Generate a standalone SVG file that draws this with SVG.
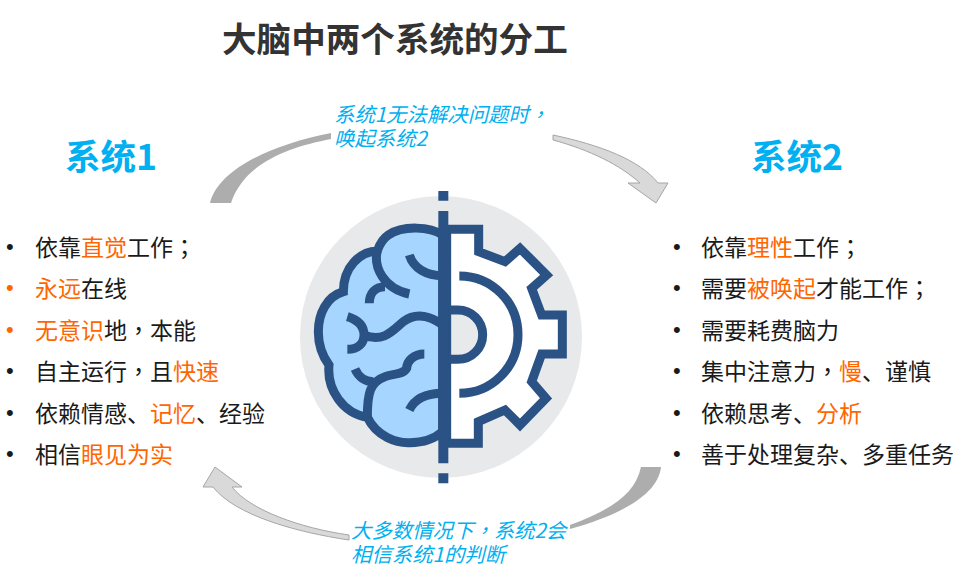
<svg xmlns="http://www.w3.org/2000/svg" width="968" height="575" viewBox="0 0 968 575">
<style>
text{font-family:"Noto Sans CJK SC","Noto Sans",sans-serif}
.li{font-size:23px;fill:#1a1a1a}
.o{fill:#ff6600}
.p{font-family:"Noto Sans CJK TC","Noto Sans CJK SC",sans-serif}
.b{font-size:22px;fill:#1a1a1a;font-family:"Liberation Sans",sans-serif}
.h{font-size:35.5px;font-weight:700;fill:#00b0f0}
.n{font-size:20.4px;font-style:italic;fill:#00b0f0}
.dark{fill:#adadad}
.light{fill:#d9d9d9;stroke:#a6a6a6;stroke-width:1}
.ic{fill:none;stroke:#2a5284;stroke-width:27;stroke-linejoin:miter}
</style>
<rect width="968" height="575" fill="#fff"/>
<g id="title"><text x="222" y="52" font-size="34.6" font-weight="700" fill="#333">大脑中两个系统的分工</text></g>
<g id="connectors">
<path class="dark" d="M210,203C218,170 270,145 331,133L331,139C290,147 245,162 231,203Z"/>
<path class="light" d="M553,135C600,145 640,160 658,183L668,183L656,203L628,183L640,183C620,165 590,150 553,140Z"/>
<path class="dark" d="M641,467L661,467C658,495 620,515 570,529L570,525C610,510 635,495 641,467Z"/>
<path class="light" d="M349,535C300,528 250,510 232,487L242,487L215,467L203,487L213,487C235,515 295,532 349,540Z"/>
</g>
<g id="brain-gear-icon">
<circle cx="441" cy="337" r="141" fill="#e8e9eb"/>
<g transform="translate(290 180) scale(.33333)">
<path class="ic" style="fill:#a6d5ff" d="M458,165C420,140 340,135 295,165C280,175 270,190 262,212C210,215 160,260 160,335C110,350 85,400 85,455C85,490 95,525 117,555C110,630 160,700 232,712C260,770 320,790 360,788C400,788 435,775 458,755Z"/>
<path class="ic" d="M262,212C250,260 280,325 358,342M238,370C238,340 255,320 285,320M358,225C370,265 410,287 458,287M172,410C205,420 222,440 222,465C222,490 205,508 172,508M222,465C280,490 310,450 340,425C380,395 425,410 458,435M403,522C370,522 350,545 350,565C340,585 310,580 285,590C240,605 232,640 232,712M195,567C205,590 225,605 250,605M358,690C375,655 410,640 458,640"/>
<path class="ic" style="fill:#fff" d="M470,148H566V215L645,245L690,205L770,285L725,325L755,405H817V522H755L725,605L768,655L690,735L645,690L565,725V790H470Z"/>
<path class="ic" style="fill:#e8e9eb" d="M470,390H504A74,74 0 0 1 504,538H470Z"/>
<path class="ic" d="M508,288A176,176 0 0 1 508,640"/>
<path d="M445,33h30v29h-30zM445,93h30v757h-30zM445,880h30v30h-30z" fill="#2a5284"/>
</g>
</g>
<g id="system1">
<text class="h" x="65" y="170">系统1</text>
<text class="b" x="6" y="254">•</text><text class="li" x="35" y="255.5">依靠<tspan class="o">直觉</tspan>工作<tspan class="p">；</tspan></text>
<text class="b" style="fill:#ff6600" x="6" y="295">•</text><text class="li" x="35" y="296.5"><tspan class="o">永远</tspan>在线</text>
<text class="b" style="fill:#ff6600" x="6" y="337">•</text><text class="li" x="35" y="338.5"><tspan class="o">无意识</tspan>地<tspan class="p">，</tspan>本能</text>
<text class="b" x="6" y="378">•</text><text class="li" x="35" y="379.5">自主运行<tspan class="p">，</tspan>且<tspan class="o">快速</tspan></text>
<text class="b" x="6" y="420">•</text><text class="li" x="35" y="421.5">依赖情感、<tspan class="o">记忆</tspan>、经验</text>
<text class="b" x="6" y="461">•</text><text class="li" x="35" y="462.5">相信<tspan class="o">眼见为实</tspan></text>
</g>
<g id="system2">
<text class="h" x="751" y="170">系统2</text>
<text class="b" x="673" y="254">•</text><text class="li" x="701" y="255.5">依靠<tspan class="o">理性</tspan>工作<tspan class="p">；</tspan></text>
<text class="b" x="673" y="295">•</text><text class="li" x="701" y="296.5">需要<tspan class="o">被唤起</tspan>才能工作<tspan class="p">；</tspan></text>
<text class="b" x="673" y="337">•</text><text class="li" x="701" y="338.5">需要耗费脑力</text>
<text class="b" x="673" y="378">•</text><text class="li" x="701" y="379.5">集中注意力<tspan class="p">，</tspan><tspan class="o">慢</tspan>、谨慎</text>
<text class="b" x="673" y="420">•</text><text class="li" x="701" y="421.5">依赖思考、<tspan class="o">分析</tspan></text>
<text class="b" x="673" y="461">•</text><text class="li" x="701" y="462.5">善于处理复杂、多重任务</text>
</g>
<g id="label-top"><text class="n" x="334" y="122">系统1无法解决问题时<tspan class="p">，</tspan></text><text class="n" x="334" y="146">唤起系统2</text></g>
<g id="label-bottom"><text class="n" x="351" y="538">大多数情况下<tspan class="p">，</tspan>系统2会</text><text class="n" x="351" y="562">相信系统1的判断</text></g>
</svg>
